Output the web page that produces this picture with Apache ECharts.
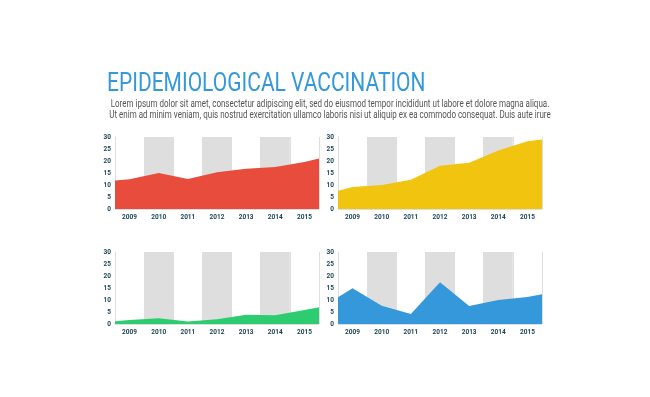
<!DOCTYPE html>
<html lang="en">
<head>
    <meta charset="UTF-8">
    <title>Epidemiological vaccination</title>
    <style>
        html, body { margin: 0; padding: 0; background: #fff; }
    </style>
</head>
<body>
    <div id="chartDiv" style="width: 650px;height:397px;"></div>
</body>
<script type="text/javascript" src="https://cdn.jsdelivr.net/npm/echarts@6/dist/echarts.min.js"></script>
<script type="text/javascript">
    // years shown under every panel
    var years = ['2009', '2010', '2011', '2012', '2013', '2014', '2015'];
    var yTicks = [0, 5, 10, 15, 20, 25, 30];

    // values at each year, plus the value at the left and right edge of the panel
    var redValues = [12.4, 15, 12.5, 15.3, 16.8, 17.5, 19.6];
    var redEdges = [11.9, 21];
    var yellowValues = [9.2, 10, 12.2, 18, 19.3, 24.4, 28.2];
    var yellowEdges = [7.6, 29];
    var greenValues = [1.7, 2.4, 1, 2, 3.9, 3.6, 5.8];
    var greenEdges = [1.1, 7];
    var blueValues = [14.9, 7.6, 4.2, 17.4, 7.5, 10, 11.2];
    var blueEdges = [11.1, 12.4];

    var titleText = 'EPIDEMIOLOGICAL VACCINATION';
    var bodyLines = [
        'Lorem ipsum dolor sit amet, consectetur adipiscing elit, sed do eiusmod tempor incididunt ut labore et dolore magna aliqua.',
        'Ut enim ad minim veniam, quis nostrud exercitation ullamco laboris nisi ut aliquip ex ea commodo consequat. Duis aute irure'
    ];

    var myChart = echarts.init(document.getElementById('chartDiv'));

    var labelColor = '#1d4657';
    var lineColor = '#dedede';
    var font = 'Roboto';

    // panel boxes (plot area)
    var panels = [
        {left: 115, top: 137, values: redValues, edges: redEdges, color: '#e74c3c'},
        {left: 338, top: 137, values: yellowValues, edges: yellowEdges, color: '#f1c40f'},
        {left: 115, top: 252, values: greenValues, edges: greenEdges, color: '#2ecc71'},
        {left: 338, top: 252, values: blueValues, edges: blueEdges, color: '#3498db'}
    ];

    function toPoints(values, edges) {
        var pts = [[0, edges[0]]];
        values.forEach(function (v, i) { pts.push([i + 0.5, v]); });
        pts.push([years.length, edges[1]]);
        return pts;
    }

    var grid = [], xAxis = [], yAxis = [], series = [];
    panels.forEach(function (p, i) {
        grid.push({left: p.left, top: p.top, width: 204, height: 72});
        // category axis: labels, bands and vertical lines
        xAxis.push({
            type: 'category',
            gridIndex: i,
            data: years,
            boundaryGap: true,
            axisLine: {show: false},
            axisTick: {show: false},
            axisLabel: {
                color: labelColor, fontSize: 6.5, fontWeight: 'bold',
                fontFamily: font, margin: 5
            },
            splitLine: {show: true, lineStyle: {color: lineColor, width: 1}},
            splitArea: {show: true, areaStyle: {color: ['#ffffff', '#dedede']}}
        });
        // hidden value axis used to place the area points
        xAxis.push({
            type: 'value',
            gridIndex: i,
            min: 0,
            max: years.length,
            show: false
        });
        yAxis.push({
            type: 'value',
            gridIndex: i,
            min: yTicks[0],
            max: yTicks[yTicks.length - 1],
            interval: yTicks[1] - yTicks[0],
            axisLine: {show: true, lineStyle: {color: lineColor}},
            axisTick: {show: false},
            axisLabel: {
                color: labelColor, fontSize: 6.5, fontWeight: 'bold',
                fontFamily: font, margin: 4
            },
            splitLine: {show: true, lineStyle: {color: lineColor, width: 1}}
        });
        series.push({
            type: 'line',
            xAxisIndex: i * 2 + 1,
            yAxisIndex: i,
            data: toPoints(p.values, p.edges),
            symbol: 'none',
            lineStyle: {width: 0},
            areaStyle: {color: p.color, opacity: 1},
            itemStyle: {color: p.color},
            z: 3
        });
    });

    var option = {
        animation: false,
        graphic: [
            {
                type: 'text',
                x: 107,
                y: 72,
                scaleX: 0.84,
                style: {
                    text: titleText,
                    fill: '#3498db',
                    font: 'normal 25px ' + font,
                    textVerticalAlign: 'top'
                }
            },
            {
                type: 'text',
                x: 330,
                y: 98.5,
                scaleX: 0.8,
                style: {
                    text: bodyLines.join('\n'),
                    fill: '#555555',
                    font: 'normal 10px ' + font,
                    lineHeight: 11,
                    align: 'center',
                    textAlign: 'center'
                }
            }
        ],
        grid: grid,
        xAxis: xAxis,
        yAxis: yAxis,
        series: series
    };

    myChart.setOption(option);
</script>
</html>
